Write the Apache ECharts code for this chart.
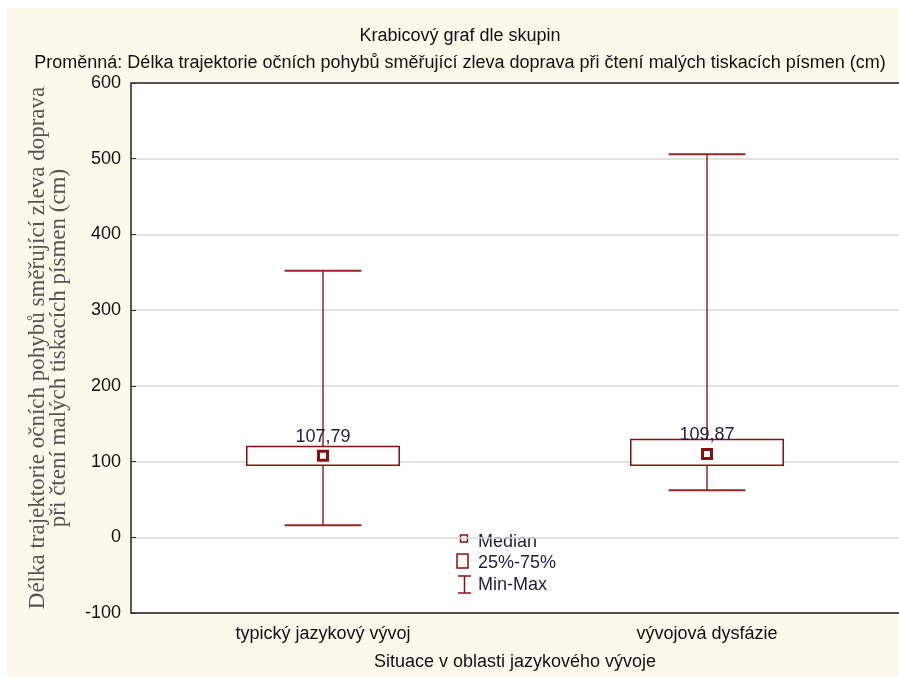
<!DOCTYPE html>
<html>
<head>
<meta charset="utf-8">
<script src="https://cdn.jsdelivr.net/npm/echarts@6/dist/echarts.min.js"></script>
<style>
  html, body { margin: 0; padding: 0; background: #ffffff; }
  #chart { width: 899px; height: 677px; }
</style>
</head>
<body>
<div id="chart"></div>
<script>
// Groups on the x axis
const categories = ['typický jazykový vývoj', 'vývojová dysfázie'];
// Box plot statistics per group (cm)
const minValues = [16, 62];
const q1Values = [95, 95];
const medianValues = [107.79, 109.87];
const q3Values = [120, 129];
const maxValues = [352, 506];
// Y axis ticks
const yTicks = [-100, 0, 100, 200, 300, 400, 500, 600];

const DARK_RED = '#8b0f0f';
const WHISKER = '#9a2525';
const SANS = '"Liberation Sans", Arial, sans-serif';
const TEXT_SIZE = 18;

const boxData = categories.map((c, i) => [i, minValues[i], q1Values[i], medianValues[i], q3Values[i], maxValues[i]]);

const fmt = v => v.toFixed(2).replace('.', ',');

function renderBox(params, api) {
  const idx = api.value(0);
  const band = api.size([1, 0])[0];
  const boxW = band * 0.397;
  const capW = band * 0.2;
  const pMin = api.coord([idx, api.value(1)]);
  const pQ1 = api.coord([idx, api.value(2)]);
  const pMed = api.coord([idx, api.value(3)]);
  const pQ3 = api.coord([idx, api.value(4)]);
  const pMax = api.coord([idx, api.value(5)]);
  const cx = pMed[0];
  const lineStyle = { stroke: WHISKER, lineWidth: 1.5 };
  return {
    type: 'group',
    children: [
      { type: 'line', shape: { x1: cx, y1: pMax[1], x2: cx, y2: pQ3[1] }, style: lineStyle },
      { type: 'line', shape: { x1: cx, y1: pQ1[1], x2: cx, y2: pMin[1] }, style: lineStyle },
      { type: 'line', shape: { x1: cx - capW / 2, y1: pMax[1], x2: cx + capW / 2, y2: pMax[1] }, style: { stroke: WHISKER, lineWidth: 2 } },
      { type: 'line', shape: { x1: cx - capW / 2, y1: pMin[1], x2: cx + capW / 2, y2: pMin[1] }, style: { stroke: WHISKER, lineWidth: 2 } },
      { type: 'rect', shape: { x: cx - boxW / 2, y: pQ3[1], width: boxW, height: pQ1[1] - pQ3[1] },
        style: { fill: '#ffffff', stroke: DARK_RED, lineWidth: 1.5 } },
      { type: 'rect', shape: { x: cx - 4.5, y: pMed[1] - 4.5, width: 9, height: 9 },
        style: { fill: '#ffffff', stroke: DARK_RED, lineWidth: 3 } },
      { type: 'text', x: cx, y: pMed[1] - 19,
        style: { text: fmt(api.value(3)), fill: '#1c1c48', font: TEXT_SIZE + 'px ' + SANS, align: 'center', verticalAlign: 'middle' } }
    ]
  };
}

const chart = echarts.init(document.getElementById('chart'), null, { renderer: 'canvas' });

chart.setOption({
  backgroundColor: '#ffffff',
  animation: false,
  title: [
    { text: 'Krabicový graf dle skupin', left: 455, top: 22, textAlign: 'center',
      textStyle: { fontFamily: SANS, fontSize: TEXT_SIZE, fontWeight: 'normal', color: '#111' } },
    { text: 'Proměnná: Délka trajektorie očních pohybů směřující zleva doprava při čtení malých tiskacích písmen (cm)',
      left: 455, top: 49, textAlign: 'center',
      textStyle: { fontFamily: SANS, fontSize: TEXT_SIZE, fontWeight: 'normal', color: '#111' } }
  ],
  graphic: [
    { type: 'rect', z: -10, silent: true, shape: { x: 7, y: 8, width: 892, height: 669 }, style: { fill: '#fdf8ec' } },
    // legend
    { type: 'rect', shape: { x: 460.5, y: 535, width: 7, height: 7 }, style: { fill: '#fdf8ec', stroke: DARK_RED, lineWidth: 1.5 } },
    { type: 'text', x: 478, y: 542, style: { text: 'Median', font: TEXT_SIZE + 'px ' + SANS, fill: '#1c1c48', verticalAlign: 'middle' } },
    { type: 'rect', shape: { x: 457, y: 554, width: 11, height: 14 }, style: { fill: '#fdf8ec', stroke: DARK_RED, lineWidth: 1.5 } },
    { type: 'text', x: 478, y: 563, style: { text: '25%-75%', font: TEXT_SIZE + 'px ' + SANS, fill: '#1c1c48', verticalAlign: 'middle' } },
    { type: 'line', shape: { x1: 458, y1: 576, x2: 471, y2: 576 }, style: { stroke: DARK_RED, lineWidth: 1.5 } },
    { type: 'line', shape: { x1: 464.5, y1: 576, x2: 464.5, y2: 593 }, style: { stroke: DARK_RED, lineWidth: 1.5 } },
    { type: 'line', shape: { x1: 458, y1: 593, x2: 471, y2: 593 }, style: { stroke: DARK_RED, lineWidth: 1.5 } },
    { type: 'text', x: 478, y: 585, style: { text: 'Min-Max', font: TEXT_SIZE + 'px ' + SANS, fill: '#1c1c48', verticalAlign: 'middle' } }
  ],
  grid: { left: 131, right: -7, top: 83, height: 530, show: true, backgroundColor: '#ffffff', borderWidth: 0 },
  xAxis: [
    {
      type: 'category', data: categories, position: 'bottom',
      name: 'Situace v oblasti jazykového vývoje', nameLocation: 'middle', nameGap: 40,
      nameTextStyle: { fontFamily: SANS, fontSize: TEXT_SIZE, color: '#111' },
      axisLine: { onZero: false, lineStyle: { color: '#222', width: 1.5 } },
      axisTick: { inside: true, alignWithLabel: true, length: 5, lineStyle: { color: '#333' } },
      axisLabel: { fontFamily: SANS, fontSize: TEXT_SIZE, color: '#111', margin: 12 },
      splitLine: { show: false }
    },
    {
      type: 'category', data: categories, position: 'top',
      axisLine: { onZero: false, lineStyle: { color: '#555', width: 2 } },
      axisTick: { inside: true, alignWithLabel: true, length: 5, lineStyle: { color: '#333' } },
      axisLabel: { show: false }
    }
  ],
  yAxis: {
    type: 'value', min: yTicks[0], max: yTicks[yTicks.length - 1], interval: 100,
    name: 'Délka trajektorie očních pohybů směřující zleva doprava\npři čtení malých tiskacích písmen (cm)',
    nameLocation: 'middle', nameGap: 62, nameRotate: 90,
    nameTextStyle: { fontFamily: '"Liberation Serif", "Times New Roman", serif', fontSize: 23, color: '#555', lineHeight: 21, align: 'center' },
    axisLine: { show: true, lineStyle: { color: '#222', width: 1.5 } },
    axisTick: { show: true, inside: true, length: 5, lineStyle: { color: '#333' } },
    axisLabel: { fontFamily: SANS, fontSize: 18, color: '#111', margin: 10 },
    splitLine: { show: true, lineStyle: { color: '#d9d9d9', width: 1.5 } }
  },
  series: [{
    type: 'custom',
    xAxisIndex: 0,
    renderItem: renderBox,
    encode: { x: 0, y: [1, 2, 3, 4, 5] },
    data: boxData,
    z: 5
  }]
});
</script>
</body>
</html>
